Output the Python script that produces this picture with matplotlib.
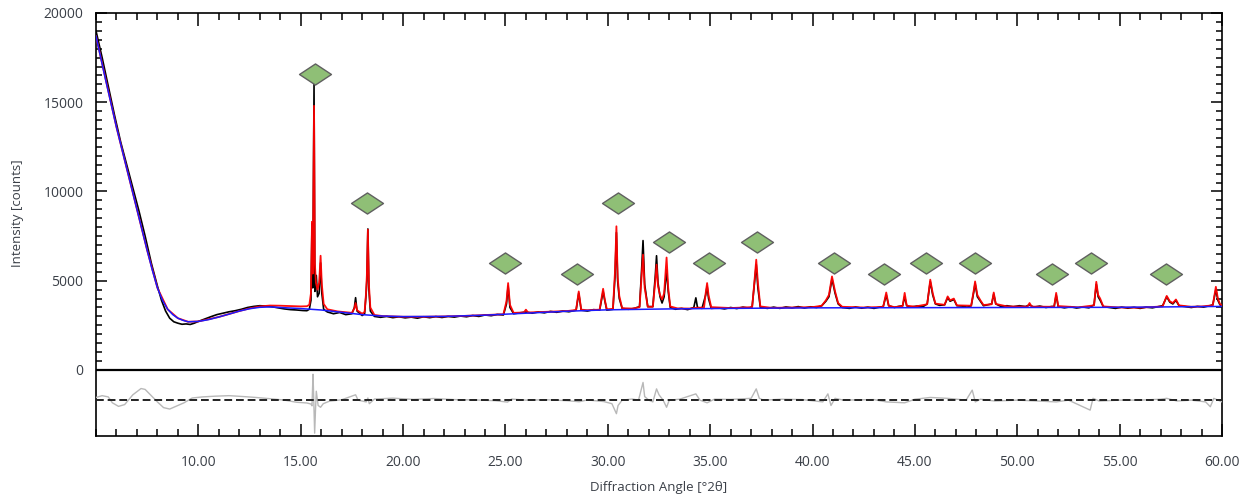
import matplotlib
matplotlib.use("Agg")
import matplotlib.pyplot as plt
import numpy as np
from matplotlib.path import Path
from matplotlib.ticker import FixedLocator, MultipleLocator

plt.rcParams['font.family'] = ['Open Sans', 'DejaVu Sans']

# ---- background (blue) ----
bg_x = [5.0, 5.5, 6.0, 6.5, 7.0, 7.5, 7.75, 8.0, 8.25, 8.5, 8.75, 9.0, 9.25, 9.5,
        10.0, 10.5, 11.0, 11.5, 12.0, 12.5, 13.0, 13.5, 14.0, 15.0, 16.0, 17.0,
        18.0, 19.0, 20.0, 22.0, 24.0, 26.0, 28.0, 30.0, 33.0, 36.0, 40.0, 45.0,
        50.0, 55.0, 60.0]
bg_y = [18700, 16100, 13600, 11300, 9000, 6700, 5600, 4600, 3900, 3400, 3100, 2900,
        2780, 2700, 2720, 2820, 2970, 3130, 3300, 3430, 3510, 3530, 3500, 3440,
        3360, 3230, 3100, 3020, 2990, 3000, 3070, 3180, 3290, 3370, 3420, 3450,
        3480, 3490, 3500, 3510, 3560]

# ---- calculated profile (red) ----
calc_x = [5.0, 6.0, 7.0, 7.5, 8.0, 8.5, 9.0, 9.5, 10.0, 11.0, 12.0, 12.5, 13.0, 13.5,
          14.0, 14.5, 15.0, 15.3, 15.42, 15.5, 15.55, 15.59, 15.65, 15.69, 15.74,
          15.82, 15.9, 15.97, 16.03, 16.12, 16.3, 16.8, 17.5, 17.62, 17.68, 17.75,
          18.0, 18.12, 18.19, 18.23, 18.28, 18.33, 18.4, 18.6, 19.0, 20.0, 21.0,
          22.0, 23.0, 24.0, 24.9, 25.05, 25.13, 25.22, 25.4, 25.9, 26.0, 26.1, 27.0,
          28.0, 28.45, 28.58, 28.7, 29.0, 29.6, 29.77, 29.85, 29.95, 30.25, 30.35,
          30.42, 30.48, 30.56, 30.7, 31.2, 31.55, 31.65, 31.72, 31.8, 31.95, 32.2,
          32.32, 32.38, 32.45, 32.55, 32.65, 32.75, 32.87, 32.95, 33.05, 33.4, 34.0,
          34.3, 34.7, 34.78, 34.85, 34.92, 35.05, 36.0, 37.05, 37.15, 37.25, 37.33,
          37.45, 38.0, 39.0, 40.0, 40.45, 40.65, 40.8, 40.95, 41.1, 41.25, 41.45,
          42.5, 43.45, 43.6, 43.72, 44.0, 44.4, 44.5, 44.6, 45.0, 45.6, 45.75, 45.87,
          46.0, 46.45, 46.6, 46.72, 46.9, 47.05, 47.75, 47.88, 47.94, 48.05, 48.2,
          48.35, 48.75, 48.85, 48.95, 49.5, 50.5, 50.6, 50.7, 51.8, 51.9, 52.0, 53.0,
          53.75, 53.86, 53.95, 54.05, 54.2, 55.0, 56.0, 57.1, 57.3, 57.45, 57.6,
          57.75, 57.9, 58.5, 59.0, 59.55, 59.7, 59.8, 59.9, 60.0]
calc_y = [18700, 13600, 9000, 6700, 4600, 3400, 2900, 2700, 2720, 2970, 3300, 3450,
          3560, 3610, 3600, 3580, 3560, 3570, 3650, 4300, 8300, 5400, 14800, 6000,
          4900, 4500, 4900, 6400, 4800, 3700, 3400, 3280, 3200, 3450, 3750, 3350,
          3150, 3250, 4300, 5300, 7860, 4800, 3500, 3080, 3020, 2980, 2980, 3000,
          3030, 3080, 3120, 3850, 4870, 3650, 3200, 3220, 3380, 3220, 3260, 3300,
          3360, 4400, 3380, 3350, 3380, 4550, 3950, 3400, 3420, 5500, 8050, 5200,
          4150, 3460, 3440, 3520, 5200, 6460, 4600, 3540, 3540, 5000, 5900, 4700,
          4200, 3950, 4300, 6300, 4600, 3560, 3450, 3440, 3480, 3500, 4300, 4870,
          4200, 3520, 3470, 3520, 4800, 6180, 4900, 3560, 3480, 3500, 3520, 3600,
          3900, 4200, 5240, 4400, 3750, 3540, 3500, 3530, 4340, 3600, 3520, 3580,
          4320, 3600, 3550, 3680, 5060, 4300, 3720, 3650, 4120, 3900, 4000, 3620,
          3600, 4500, 4960, 4200, 3900, 3640, 3680, 4340, 3700, 3560, 3550, 3750,
          3550, 3540, 4320, 3580, 3510, 3620, 4940, 4200, 4000, 3560, 3500, 3490,
          3560, 4150, 3850, 3750, 3950, 3620, 3540, 3560, 3620, 4660, 4000, 3700,
          3620]

# ---- observed counts (black) ----
obs_x = [5.0, 5.3, 5.6, 5.9, 6.2, 6.5, 6.8, 7.1, 7.4, 7.7, 8.0, 8.2, 8.4, 8.6, 8.8,
         9.0, 9.2, 9.4, 9.6, 9.8, 10.0, 10.3, 10.6, 10.9, 11.2, 11.5, 11.8, 12.1,
         12.4, 12.7, 13.0, 13.3, 13.6, 13.9, 14.2, 14.5, 14.8, 15.1, 15.3, 15.42,
         15.5, 15.55, 15.59, 15.65, 15.69, 15.76, 15.82, 15.9, 15.97, 16.03, 16.12,
         16.3, 16.6, 16.9, 17.2, 17.5, 17.62, 17.68, 17.75, 18.0, 18.12, 18.19,
         18.23, 18.28, 18.33, 18.4, 18.6, 18.9, 19.2, 19.5, 19.8, 20.1, 20.4, 20.7,
         21.0, 21.3, 21.6, 21.9, 22.2, 22.5, 22.8, 23.1, 23.4, 23.7, 24.0, 24.3,
         24.6, 24.9, 25.05, 25.13, 25.22, 25.4, 25.7, 26.0, 26.3, 26.6, 26.9, 27.2,
         27.5, 27.8, 28.1, 28.45, 28.58, 28.7, 29.0, 29.3, 29.6, 29.77, 29.85, 29.95,
         30.25, 30.35, 30.42, 30.48, 30.56, 30.7, 31.0, 31.3, 31.55, 31.65, 31.72,
         31.8, 31.95, 32.2, 32.32, 32.38, 32.45, 32.55, 32.65, 32.75, 32.87, 32.95,
         33.05, 33.3, 33.6, 33.9, 34.2, 34.3, 34.38, 34.6, 34.78, 34.85, 34.92,
         35.05, 35.4, 35.7, 36.0, 36.3, 36.6, 36.9, 37.05, 37.15, 37.25, 37.33,
         37.45, 37.8, 38.1, 38.4, 38.7, 39.0, 39.3, 39.6, 39.9, 40.2, 40.45, 40.65,
         40.8, 40.95, 41.1, 41.25, 41.45, 41.8, 42.1, 42.4, 42.7, 43.0, 43.3, 43.45,
         43.6, 43.72, 44.0, 44.2, 44.4, 44.5, 44.6, 44.8, 45.1, 45.4, 45.6, 45.75,
         45.87, 46.0, 46.2, 46.45, 46.6, 46.72, 46.9, 47.05, 47.3, 47.55, 47.75,
         47.88, 47.94, 48.05, 48.2, 48.35, 48.55, 48.75, 48.85, 48.95, 49.2, 49.5,
         49.8, 50.1, 50.4, 50.6, 50.8, 51.1, 51.4, 51.7, 51.8, 51.9, 52.0, 52.3,
         52.6, 52.9, 53.2, 53.5, 53.75, 53.86, 53.95, 54.05, 54.2, 54.5, 54.8, 55.1,
         55.4, 55.7, 56.0, 56.3, 56.6, 56.9, 57.1, 57.3, 57.45, 57.6, 57.75, 57.9,
         58.2, 58.5, 58.8, 59.1, 59.4, 59.55, 59.7, 59.8, 59.9, 60.0]
obs_y = [19000, 17500, 15900, 14300, 12800, 11500, 10200, 8900, 7500, 6000, 4700,
         3900, 3300, 2900, 2700, 2620, 2560, 2580, 2550, 2620, 2720, 2850, 2980,
         3100, 3180, 3260, 3320, 3400, 3500, 3560, 3600, 3580, 3540, 3480, 3420,
         3380, 3360, 3330, 3320, 3400, 3900, 8200, 4600, 16000, 4400, 5300, 4100,
         4300, 6000, 4300, 3400, 3250, 3150, 3220, 3100, 3150, 3500, 4050, 3300,
         3050, 3150, 4200, 5000, 7900, 4500, 3300, 3000, 2950, 3000, 2930, 2980,
         2920, 2960, 2900, 2980, 2930, 2990, 2940, 3000, 2960, 3020, 2980, 3050,
         3000, 3080, 3040, 3110, 3080, 3700, 4700, 3500, 3150, 3200, 3250, 3180,
         3250, 3200, 3280, 3230, 3300, 3260, 3350, 4300, 3350, 3300, 3380, 3350,
         4400, 3900, 3350, 3400, 5200, 7700, 5000, 4000, 3450, 3400, 3450, 3550,
         5600, 7250, 4800, 3550, 3550, 5300, 6400, 4900, 4100, 3750, 4100, 5600,
         4400, 3500, 3400, 3450, 3380, 3500, 4040, 3500, 3450, 4200, 4700, 4000,
         3450, 3480, 3420, 3500, 3440, 3520, 3460, 3550, 4700, 5900, 4600, 3500,
         3450, 3520, 3450, 3530, 3480, 3550, 3470, 3540, 3500, 3600, 3850, 4100,
         5100, 4300, 3700, 3500, 3450, 3530, 3460, 3520, 3450, 3530, 3550, 4200,
         3600, 3500, 3560, 3600, 4100, 3600, 3520, 3580, 3550, 3700, 4950, 4200,
         3700, 3620, 3650, 4050, 3850, 3950, 3600, 3580, 3520, 3600, 4400, 4850,
         4100, 3850, 3600, 3650, 3700, 4250, 3700, 3560, 3600, 3540, 3600, 3550,
         3650, 3520, 3580, 3500, 3560, 3550, 4200, 3550, 3480, 3540, 3470, 3530,
         3480, 3650, 4800, 4100, 3900, 3550, 3500, 3450, 3520, 3460, 3510, 3450,
         3520, 3480, 3550, 3600, 4100, 3800, 3700, 3900, 3600, 3550, 3500, 3560,
         3520, 3600, 3650, 4500, 3900, 3650, 3600]

# ---- residual (observed - calculated), drawn below the zero line ----
diff_offset = -1690
diff_x = [5.0, 5.3, 5.6, 5.8, 6.1, 6.4, 6.8, 7.2, 7.4, 7.7, 8.0, 8.3, 8.6, 8.9, 9.3,
          9.7, 10.2, 10.8, 11.5, 12.2, 12.8, 13.5, 14.2, 14.8, 15.3, 15.5, 15.55,
          15.6, 15.63, 15.68, 15.72, 15.76, 15.85, 15.97, 16.1, 16.4, 17.0, 17.68,
          17.8, 18.2, 18.28, 18.35, 18.6, 19.5, 20.5, 21.5, 22.5, 23.5, 24.5, 25.1,
          25.3, 26.0, 27.0, 28.0, 28.6, 29.0, 29.8, 30.2, 30.42, 30.5, 30.7, 31.2,
          31.5, 31.72, 31.8, 32.0, 32.2, 32.38, 32.5, 32.7, 32.87, 33.0, 33.5, 34.3,
          34.5, 34.85, 35.2, 36.0, 37.0, 37.25, 37.4, 37.6, 38.5, 39.5, 40.5, 40.75,
          40.9, 41.1, 41.5, 43.0, 43.6, 44.5, 45.0, 45.75, 46.6, 47.5, 47.8, 47.95,
          48.2, 48.9, 50.0, 51.0, 51.9, 52.5, 53.56, 53.7, 54.0, 55.0, 56.0, 57.0,
          57.3, 57.8, 58.5, 59.2, 59.43, 59.6, 60.0]
diff_y = [150, 250, 180, -150, -350, -250, 300, 650, 600, 250, -100, -420, -500,
          -350, -150, 120, 180, 220, 250, 200, 150, 80, 0, -120, -160, -220, -320,
          1450, 300, -1850, -600, 500, -300, -400, -200, -60, 20, 300, 0, -100, 120,
          -200, 60, 110, 40, 90, 30, 10, -30, -110, 60, 0, 20, -30, -90, 10, -80,
          -200, -760, -300, 0, 60, 0, 990, 200, 0, -100, 630, 300, 0, -400, 0, 50,
          350, 0, -150, 50, 40, 100, 630, 100, 0, 50, 30, -100, 350, -300, 100, 0,
          30, -100, -150, 50, 150, 100, 0, 560, -100, 50, -50, 0, -50, -100, 0,
          -560, 100, -50, 0, 0, 50, 100, -50, 0, -100, -370, 100, -100]

# ---- phase markers (green diamonds) ----
marker_x = [15.7, 18.25, 25.0, 28.5, 30.52, 33.0, 34.92, 37.28, 41.05, 43.5, 45.55,
            47.92, 51.72, 53.62, 57.25]
marker_y = [16570, 9330, 6000, 5390, 9330, 7180, 6000, 7180, 6000, 5390, 6000,
            6000, 5390, 6000, 5390]

x_ticks = [10, 15, 20, 25, 30, 35, 40, 45, 50, 55, 60]
x_tick_labels = ['10.00', '15.00', '20.00', '25.00', '30.00', '35.00', '40.00',
                 '45.00', '50.00', '55.00', '60.00']
y_ticks = [0, 5000, 10000, 15000, 20000]
y_tick_labels = ['0', '5000', '10000', '15000', '20000']

label_color = '#3a3f47'

fig = plt.figure(figsize=(12.47, 5.0), dpi=100)
ax = fig.add_axes([96 / 1247, 1 - 436 / 500, (1222 - 96) / 1247, (436 - 13) / 500])

ax.plot(obs_x, obs_y, color='black', lw=1.2, zorder=3)
ax.plot(calc_x, calc_y, color='#ff0000', lw=1.3, zorder=4, alpha=0.95)
ax.plot(bg_x, bg_y, color='#1a1aff', lw=1.1, zorder=5)

diff_abs = [diff_offset + d for d in diff_y]
ax.plot(diff_x, diff_abs, color='#b8b8b8', lw=1.0, zorder=3)
ax.axhline(diff_offset, color='#222222', lw=1.4, ls=(0, (4, 2)), zorder=4)
ax.axhline(0, color='black', lw=1.6, zorder=6)

diamond = Path([(-1, 0), (0, 0.66), (1, 0), (0, -0.66), (-1, 0)],
               [Path.MOVETO, Path.LINETO, Path.LINETO, Path.LINETO, Path.CLOSEPOLY])
ax.plot(marker_x, marker_y, ls='none', marker=diamond, markersize=23,
        markerfacecolor='#8fbf76', markeredgecolor='#606060', markeredgewidth=1.0,
        zorder=7)

ax.set_xlim(5, 60)
ax.set_ylim(-3700, 20000)

for s in ax.spines.values():
    s.set_color('black')
    s.set_linewidth(1.2)

ax.xaxis.set_major_locator(FixedLocator(x_ticks))
ax.xaxis.set_minor_locator(MultipleLocator(1))
ax.set_xticklabels(x_tick_labels)
ax.yaxis.set_major_locator(FixedLocator(y_ticks))
ax.yaxis.set_minor_locator(FixedLocator(np.arange(500, 20000, 500)))
ax.set_yticklabels(y_tick_labels)

ax.tick_params(axis='x', which='both', direction='in', top=True, bottom=True,
               color='black', width=1.1, labelsize=10, labelcolor=label_color, pad=14)
ax.tick_params(axis='x', which='major', length=9)
ax.tick_params(axis='x', which='minor', length=5)
ax.tick_params(axis='y', which='both', direction='in', left=True, right=True,
               color='black', width=1.1, labelsize=10, labelcolor=label_color, pad=9)
ax.tick_params(axis='y', which='major', length=8)
ax.tick_params(axis='y', which='minor', length=4.5)

fig.text(18 / 1247, 1 - 213 / 500, 'Intensity [counts]', rotation=90,
         ha='center', va='center', fontsize=9.5, color=label_color)
fig.text(659 / 1247, 1 - 488 / 500, 'Diffraction Angle [°2θ]',
         ha='center', va='center', fontsize=9.5, color=label_color)

fig.savefig('out.png', dpi=100)
